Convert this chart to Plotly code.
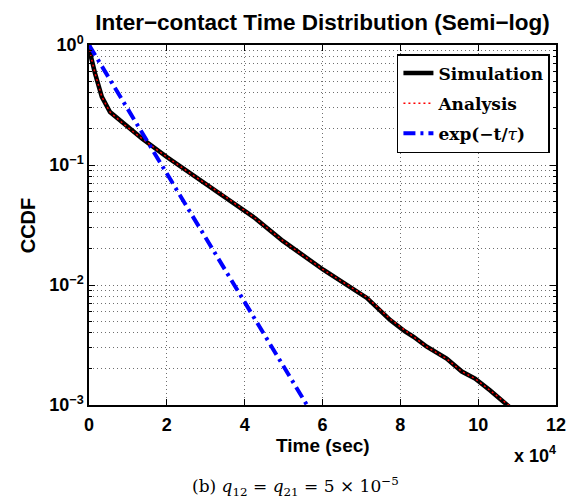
import plotly.graph_objects as go

# ---- data ----
sim_t = [0, 500, 1550, 2800, 3300, 5400, 9300, 13600, 20100, 27500, 35200, 42700,
         49900, 60200, 71400, 77400, 81200, 83400, 86800, 91900, 95800, 99200,
         103100, 107800, 110000]
sim_ccdf = [1.0, 0.80, 0.58, 0.42, 0.37, 0.276, 0.214, 0.166, 0.116, 0.079, 0.054,
            0.036, 0.0232, 0.0134, 0.0078, 0.0051, 0.0041, 0.0037, 0.00306, 0.00244,
            0.0019, 0.00166, 0.00132, 0.00100, 0.00085]

ana_t = sim_t
ana_ccdf = [1.0, 0.80, 0.58, 0.42, 0.37, 0.276, 0.214, 0.166, 0.116, 0.079, 0.054,
            0.036, 0.0232, 0.0134, 0.0079, 0.0052, 0.0042, 0.0037, 0.00305, 0.00243,
            0.0019, 0.00166, 0.00132, 0.00100, 0.00085]

exp_t = [0, 10000, 20000, 30000, 40000, 50000, 56000]
exp_ccdf = [1.0, 0.29, 0.085, 0.025, 0.0073, 0.0021, 0.001]

x_tickvals = [0, 20000, 40000, 60000, 80000, 100000, 120000]
x_ticktext = ["0", "2", "4", "6", "8", "10", "12"]
y_tickvals = [1, 0.1, 0.01, 0.001]
y_ticktext = ["10<sup>0</sup>", "10<sup>−1</sup>", "10<sup>−2</sup>", "10<sup>−3</sup>"]
y_minor = [m * d for d in (0.001, 0.01, 0.1) for m in range(2, 10)]

SANS = "Liberation Sans"
SERIF = "DejaVu Serif"
GRID = "#6f6f6f"
GRIDDASH = "1px,3px"

fig = go.Figure()
fig.add_trace(go.Scatter(x=sim_t, y=sim_ccdf, mode="lines", name="<b>Simulation</b>",
                         legendgroup="a", line=dict(color="black", width=4.5)))
fig.add_trace(go.Scatter(x=ana_t, y=ana_ccdf, mode="lines", name="<b>Analysis</b>",
                         legendgroup="b", line=dict(color="red", width=1.5, dash="2px,3px")))
fig.add_trace(go.Scatter(x=exp_t, y=exp_ccdf, mode="lines",
                         name="<b>exp(−t/</b><i>τ</i><b>)</b>",
                         legendgroup="c",
                         line=dict(color="blue", width=4, dash="12px,5px,3px,5px")))

axis_common = dict(
    showline=True, linecolor="black", linewidth=1.5, mirror="allticks",
    ticks="inside", ticklen=6, tickcolor="black", tickwidth=1,
    showgrid=True, gridcolor=GRID, gridwidth=1, griddash=GRIDDASH,
    zeroline=False,
    tickfont=dict(family=SANS, size=18, color="black", weight="bold"),
)

fig.update_xaxes(range=[0, 120000], tickmode="array", tickvals=x_tickvals,
                 ticktext=x_ticktext, ticklabelstandoff=3, **axis_common)
fig.update_yaxes(type="log", range=[-3, 0], tickmode="array", tickvals=y_tickvals,
                 ticktext=y_ticktext,
                 minor=dict(tickmode="array", tickvals=y_minor, ticks="inside", ticklen=3,
                            tickcolor="black", showgrid=True, gridcolor=GRID,
                            griddash=GRIDDASH, gridwidth=1),
                 **axis_common)

fig.update_layout(
    width=579, height=500,
    margin=dict(l=89, r=23, t=45, b=95),
    paper_bgcolor="white", plot_bgcolor="white",
    title=dict(text="<b>Inter−contact Time Distribution (Semi−log)</b>",
               x=0.557, y=1 - 22 / 500, xanchor="center", yanchor="middle",
               font=dict(family=SANS, size=22.5, color="black")),
    legend=dict(x=0.987, y=0.975, xanchor="right", yanchor="top",
                bgcolor="white", bordercolor="black", borderwidth=1.5,
                font=dict(family=SERIF, size=17, color="black"),
                tracegroupgap=5, traceorder="grouped"),
    showlegend=True,
    annotations=[
        dict(text="<b>CCDF</b>", xref="paper", yref="paper", x=-0.13, y=0.5,
             textangle=-90, showarrow=False, xanchor="center", yanchor="middle",
             font=dict(family=SANS, size=20, color="black")),
        dict(text="<b>Time (sec)</b>", xref="paper", yref="paper", x=0.5, y=-0.112,
             showarrow=False, xanchor="center", yanchor="middle",
             font=dict(family=SANS, size=19, color="black")),
        dict(text="<b>x 10<sup>4</sup></b>", xref="paper", yref="paper", x=0.955, y=-0.138,
             showarrow=False, xanchor="center", yanchor="middle",
             font=dict(family=SANS, size=18, color="black")),
        dict(text="(b) <i>q</i><sub>12</sub> = <i>q</i><sub>21</sub> = 5 × 10<sup>−5</sup>",
             xref="paper", yref="paper", x=0.443, y=-0.225,
             showarrow=False, xanchor="center", yanchor="middle",
             font=dict(family=SERIF, size=17, color="black")),
    ],
)

fig.write_html("out.html")
